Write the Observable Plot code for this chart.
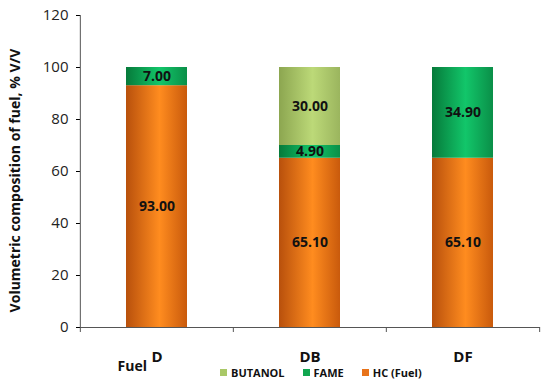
<!DOCTYPE html>
<html>
<head>
<meta charset="utf-8">
<script src="https://cdn.jsdelivr.net/npm/d3@7"></script>
<script src="https://cdn.jsdelivr.net/npm/@observablehq/plot@0.6"></script>
<style>
  body { margin: 0; background: #fff; font-family: "Open Sans", sans-serif; }
  #chart { position: relative; width: 550px; height: 386px; }
  .legend { position: absolute; top: 365px; left: 220px; display: flex; gap: 0; font: bold 11px "Open Sans", sans-serif; color: #111; }
  .legend span { display: inline-flex; align-items: center; margin-right: 18px; }
  .legend i { display: inline-block; width: 7px; height: 7px; margin-right: 4px; }
</style>
</head>
<body>
<div id="chart"></div>
<script>
const categories = ["D", "DB", "DF"];
const components = ["HC (Fuel)", "FAME", "BUTANOL"];
const hcValues = [93.00, 65.10, 65.10];
const fameValues = [7.00, 4.90, 34.90];
const butanolValues = [0, 30.00, 0];
const yTicks = [0, 20, 40, 60, 80, 100, 120];
const legendOrder = ["BUTANOL", "FAME", "HC (Fuel)"];
const colors = {"HC (Fuel)": "#E8731A", "FAME": "#11A64F", "BUTANOL": "#A9C867"};
const gradIds = {"HC (Fuel)": "gHC", "FAME": "gFAME", "BUTANOL": "gBUT"};

const rows = [];
categories.forEach((c, i) => {
  [hcValues, fameValues, butanolValues].forEach((arr, k) => {
    if (arr[i] > 0) rows.push({fuel: c, comp: components[k], value: arr[i]});
  });
});

const W = 550, H = 380, mL = 80, mR = 10;
const step = (W - mL - mR) / categories.length;

const plot = Plot.plot({
  width: W, height: H,
  marginLeft: mL, marginRight: mR, marginTop: 15, marginBottom: 53,
  style: {fontFamily: "'Open Sans', sans-serif", background: "transparent"},
  x: {domain: categories, paddingInner: 0.6, paddingOuter: 0.3, label: null},
  y: {domain: [0, 120], ticks: yTicks, label: null},
  marks: [
    Plot.barY(rows, Plot.stackY({order: components}, {
      x: "fuel", y: "value", z: "comp", fill: d => `url(#${gradIds[d.comp]})`
    })),
    Plot.text(rows, Plot.stackY({order: components}, {
      x: "fuel", y: "value", z: "comp", text: d => d.value.toFixed(2),
      fill: "#111", fontSize: 14, fontWeight: "bold"
    })),
    Plot.axisY({ticks: yTicks, tickSize: 4, tickPadding: 8, fontSize: 15, fill: "#222",
      label: "Volumetric composition of fuel, % V/V", labelAnchor: "center", labelOffset: 70, labelArrow: "none"}),
    Plot.ruleX(categories.slice(0, 1), {x: d => d, y1: 0, y2: 120, dx: -step / 2, stroke: "#555"}),
    Plot.axisX({tickSize: 0, tickPadding: 24, fontSize: 15, fontWeight: "bold", fill: "#111", label: null}),
    Plot.ruleY([0], {stroke: "#555"}),
    Plot.ruleX(categories, {x: d => d, y1: 0, y2: 0, insetBottom: -5, dx: -step / 2, stroke: "#555"}),
    Plot.ruleX(categories.slice(-1), {x: d => d, y1: 0, y2: 0, insetBottom: -5, dx: step / 2, stroke: "#555"}),
    Plot.text(["Fuel"], {frameAnchor: "bottom-left", dx: 37, dy: 43, text: d => d, fontSize: 14, fontWeight: "bold", fill: "#111", textAnchor: "start"})
  ]
});

// gradient definitions for the cylinder-like shading
const svg = d3.select(plot);
const defs = svg.insert("defs", ":first-child");
const grads = [
  ["gHC", "#B8500C", "#FF8C1F", "#C95A0C"],
  ["gFAME", "#067A3A", "#12C66A", "#0A8F48"],
  ["gBUT", "#8CA650", "#BCD978", "#9BB55E"]
];
grads.forEach(([id, a, b, c]) => {
  const g = defs.append("linearGradient").attr("id", id).attr("x1", "0").attr("x2", "1").attr("y1", "0").attr("y2", "0");
  g.append("stop").attr("offset", "0%").attr("stop-color", a);
  g.append("stop").attr("offset", "55%").attr("stop-color", b);
  g.append("stop").attr("offset", "100%").attr("stop-color", c);
});
svg.selectAll("g[aria-label='y-axis label'] text")
  .attr("font-weight", "bold").attr("font-size", 14).attr("fill", "#111").attr("dx", -9);

const chart = document.getElementById("chart");
chart.appendChild(plot);
const legend = document.createElement("div");
legend.className = "legend";
legendOrder.forEach(k => {
  const s = document.createElement("span");
  const i = document.createElement("i");
  i.style.background = colors[k];
  s.appendChild(i);
  s.appendChild(document.createTextNode(k));
  legend.appendChild(s);
});
chart.appendChild(legend);
</script>
</body>
</html>
